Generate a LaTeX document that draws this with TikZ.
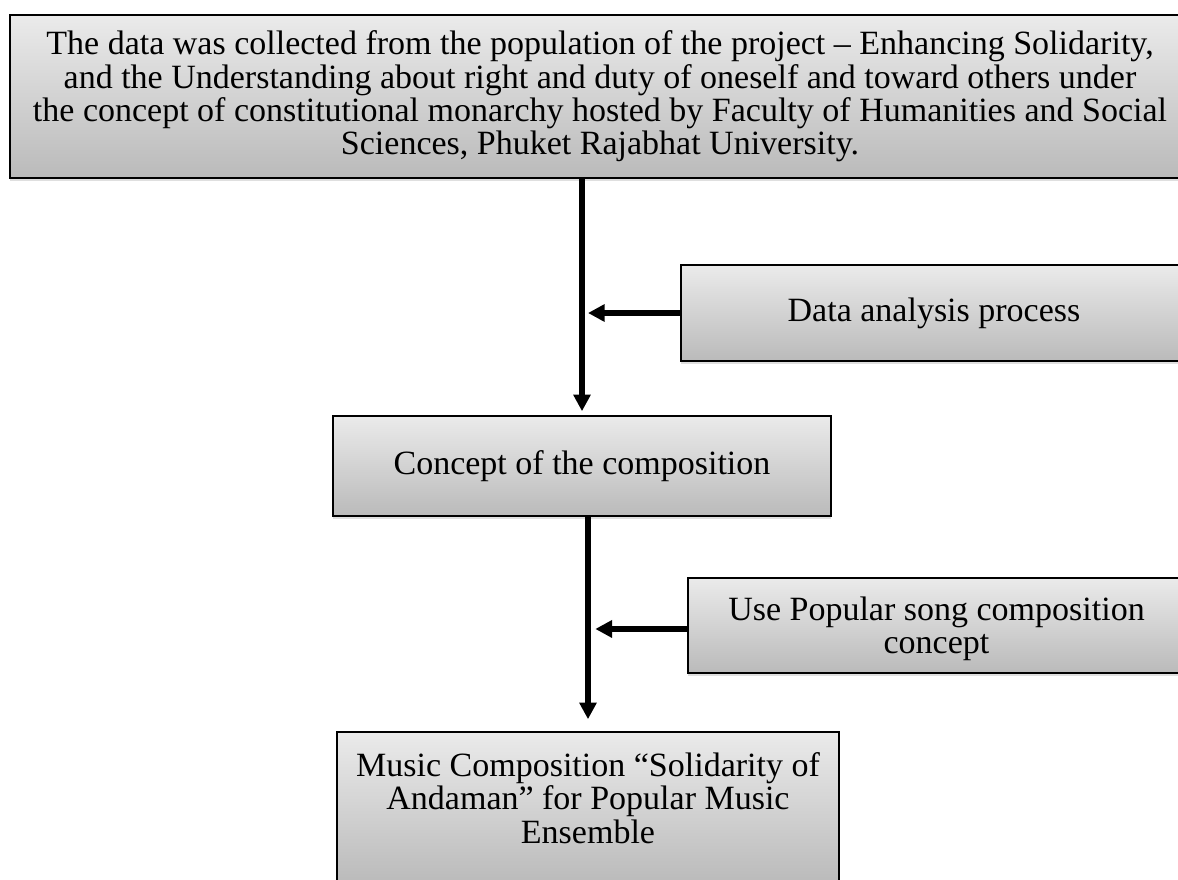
\documentclass[tikz,border=0pt]{standalone}
\usepackage{fontspec}
\setmainfont{Liberation Serif}
\usetikzlibrary{arrows.meta, shadows}

\begin{document}
\begin{tikzpicture}[x=0.75pt, y=-0.75pt, font=\fontsize{25.5}{25}\selectfont,
    box/.style={draw, line width=1.2pt, align=center, inner sep=0pt,
      top color=black!8, bottom color=black!27,
      drop shadow={shadow xshift=0pt, shadow yshift=-2pt, opacity=0.25}},
    flow/.style={line width=3.9pt, -{Triangle[length=12.5pt, width=12.5pt]}}]
      \useasboundingbox (0,0) rectangle (1178,879);
      \clip (0,0) rectangle (1178,879);
      % steps
      \node[box, minimum width=885pt, minimum height=122.25pt](source) at (600, 96.5) {
        The data was collected from the population of the project -- Enhancing Solidarity,\\
        and the Understanding about right and duty of oneself and toward others under\\
        the concept of constitutional monarchy hosted by Faculty of Humanities and Social\\
        Sciences, Phuket Rajabhat University.};
      \node[box, minimum width=379.5pt, minimum height=72pt](analysis) at (934, 313) {Data analysis process};
      \node[box, minimum width=373.5pt, minimum height=75pt](concept) at (582, 466) {\raisebox{-3pt}{Concept of the composition}};
      \node[box, minimum width=373pt, minimum height=71.25pt,
        label={[align=center, yshift=-2.6pt]center:Use Popular song composition\\ concept}](popular) at (936.5, 625.5) {};
      \node[box, minimum width=376.5pt, minimum height=114pt,
        label={[align=center, yshift=7.5pt]center:Music Composition ``Solidarity of\\ Andaman'' for Popular Music\\ Ensemble}](music) at (588, 808) {};
      % arrows
      \draw[flow, shorten >=3pt] (source.south -| concept.north) -- (concept.north);
      \draw[flow, shorten >=4.5pt] (analysis.west) -- (analysis.west -| concept.north);
      \draw[flow, shorten >=9pt] (concept.south -| music.north) -- (music.north);
      \draw[flow, shorten >=5.5pt] ([yshift=-2.6pt]popular.west) -- ([yshift=-2.6pt]popular.west -| music.north);
\end{tikzpicture}
\end{document}
